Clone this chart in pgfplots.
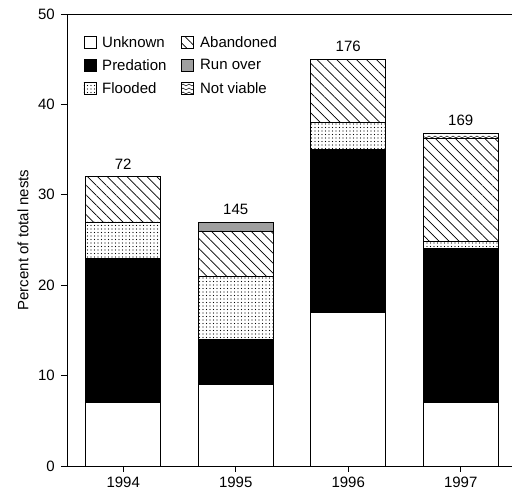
\documentclass[border=0pt]{standalone}
\usepackage{pgfplots}
\pgfplotsset{compat=1.18}
\usepackage{pgfplotstable}
\usetikzlibrary{patterns,patterns.meta}
\usepackage{fontspec}
\setmainfont{Liberation Sans}

\pgfdeclarepatternformonly{zigzag}{\pgfqpoint{-1pt}{-1pt}}{\pgfqpoint{7pt}{5pt}}{\pgfqpoint{6pt}{4pt}}{%
  \pgfsetlinewidth{0.5pt}%
  \pgfpathmoveto{\pgfqpoint{0pt}{1pt}}%
  \pgfpathlineto{\pgfqpoint{3pt}{3pt}}%
  \pgfpathlineto{\pgfqpoint{6pt}{1pt}}%
  \pgfusepath{stroke}}

\pgfplotstableread{
x unknown predation flooded abandoned runover notviable top lab
0 7 16 4 5 0 0 0.01 72
1 9 5 7 5 1 0 0.01 145
2 17 18 3 7 0 0 0.01 176
3 7 17.1 0.8 11.3 0 0.6 0.01 169
}\data

\newcommand\fs{\fontsize{15}{18}\selectfont}
\begin{document}
\fs
\begin{tikzpicture}
\begin{axis}[
  name=ax,
  scale only axis,
  width=445pt, height=452pt,
  xmin=-0.5, xmax=3.456,
  ymin=0, ymax=50,
  ybar stacked,
  bar width=75pt,
  axis x line*=bottom,
  axis y line*=left,
  xtick={0,1,2,3},
  xticklabels={1994,1995,1996,1997},
  ytick={0,10,20,30,40,50},
  tick align=outside,
  major tick length=6pt,
  minor tick num=0,
  tick style={black, line width=0.7pt},
  axis line style={black, line width=0.9pt, -},
  /pgf/number format/assume math mode=true,
  ticklabel style={font=\fs},
  yticklabel style={xshift=-1pt},
  ylabel={Percent of total nests},
  ylabel style={font=\fs, at={(axis description cs:-0.075,0.5)}, anchor=south},
  legend columns=3,
  transpose legend,
  legend cell align=left,
  legend style={draw=none, fill=none, at={(axis description cs:0.03,0.96)}, anchor=north west,
    font=\fs, row sep=6pt,
    /tikz/every even column/.append style={column sep=13pt},
    /tikz/every odd column/.append style={column sep=4pt}},
  legend image code/.code={\draw[#1, line width=0.7pt] (0pt,-5.5pt) rectangle (12pt,6.5pt);},
  every axis plot/.append style={draw=black, line width=0.8pt},
]
\addplot[fill=white] table[x=x, y=unknown] {\data};
\addplot[fill=black] table[x=x, y=predation] {\data};
\addplot[pattern={Dots[distance=3.5pt, radius=0.55pt]}] table[x=x, y=flooded] {\data};
\addplot[pattern={Lines[angle=-45, distance=7pt, line width=0.7pt]}] table[x=x, y=abandoned] {\data};
\addplot[fill=gray!75] table[x=x, y=runover] {\data};
\addplot[pattern=zigzag] table[x=x, y=notviable] {\data};
\addplot[draw=none, fill=none, nodes near coords, point meta=explicit symbolic,
  every node near coord/.append style={font=\fs, text=black, anchor=south, yshift=2pt}]
  table[x=x, y=top, meta=lab] {\data};
\legend{Unknown, Predation, Flooded, Abandoned, Run over, Not viable}
\end{axis}
\draw[black, line width=0.9pt] (ax.north west) -- (ax.north east);
\pgfresetboundingbox
\path ([shift={(-67pt,-29pt)}]ax.south west) rectangle ([shift={(0pt,14pt)}]ax.north east);
\end{tikzpicture}
\end{document}
